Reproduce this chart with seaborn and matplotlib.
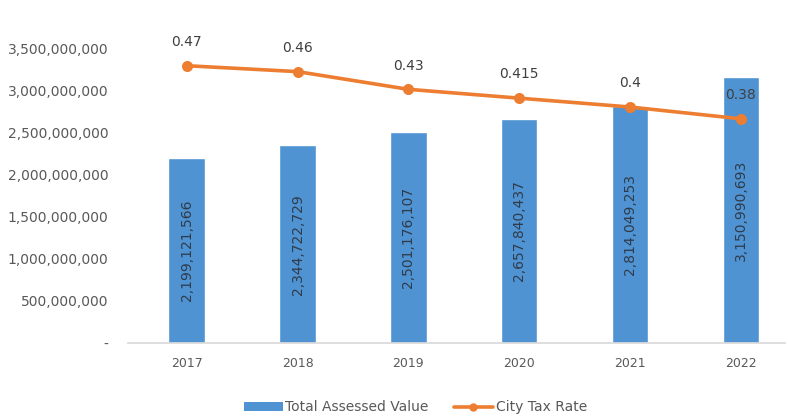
import matplotlib.pyplot as plt
import seaborn as sns
import pandas as pd
from matplotlib.patches import Patch
from matplotlib.lines import Line2D
from matplotlib.ticker import FuncFormatter

# Data
years = ["2017", "2018", "2019", "2020", "2021", "2022"]
assessed_value = [2199121566, 2344722729, 2501176107, 2657840437, 2814049253, 3150990693]
tax_rate = [0.47, 0.46, 0.43, 0.415, 0.4, 0.38]
tax_rate_labels = ["0.47", "0.46", "0.43", "0.415", "0.4", "0.38"]

df = pd.DataFrame({"year": years, "value": assessed_value, "rate": tax_rate})

BAR_COLOR = "#4F93D3"
LINE_COLOR = "#ED7D31"
TEXT_COLOR = "#595959"

sns.set_theme(style="white")
plt.rcParams['font.family'] = ['DejaVu Sans']

fig = plt.figure(figsize=(7.88, 4.19), dpi=100)
ax = fig.add_axes([0.1624, 0.1814, 0.834, 0.704])

sns.barplot(data=df, x="year", y="value", color=BAR_COLOR, width=0.33,
            saturation=1, ax=ax)

# value labels inside the bars, rotated
for i, v in enumerate(assessed_value):
    ax.text(i, v / 2, f"{v:,}", rotation=90, ha="center", va="center",
            fontsize=10, color="#2F3B4A")

ax.set_ylim(0, 3.5e9)
ax.set_yticks([i * 5e8 for i in range(8)])
ax.yaxis.set_major_formatter(FuncFormatter(lambda y, _: "-" if y == 0 else f"{int(y):,}"))
ax.tick_params(axis="y", labelsize=10, labelcolor=TEXT_COLOR, length=0, pad=14)
ax.tick_params(axis="x", labelsize=9, labelcolor=TEXT_COLOR, length=0, pad=10)
ax.set_xlabel("")
ax.set_ylabel("")
for side in ["top", "right", "left"]:
    ax.spines[side].set_visible(False)
ax.spines["bottom"].set_color("#D9D9D9")
ax.set_xlim(-0.53, 5.4)

# tax rate on a hidden secondary axis
ax2 = ax.twinx()
sns.pointplot(data=df, x="year", y="rate", color=LINE_COLOR, markers="o",
              linestyles="-", markersize=6, linewidth=2.6, ax=ax2)
ax2.set_ylim(0, 0.5)
ax2.set_xlim(-0.53, 5.4)
ax2.set_axis_off()
for i, (r, lab) in enumerate(zip(tax_rate, tax_rate_labels)):
    ax2.annotate(lab, (i, r), xytext=(0, 12), textcoords="offset points",
                 ha="center", va="bottom", fontsize=10, color="#404040")

handles = [Patch(facecolor=BAR_COLOR, edgecolor="none", label="Total Assessed Value"),
           Line2D([0], [0], color=LINE_COLOR, lw=2.6, marker="o", markersize=5,
                  label="City Tax Rate")]
fig.legend(handles=handles, loc="center", bbox_to_anchor=(0.527, 0.028), ncol=2,
           frameon=False, fontsize=10, handlelength=2.8, handleheight=0.55,
           handletextpad=0.2, columnspacing=1.8, labelcolor=TEXT_COLOR)

fig.savefig("out.png", dpi=100)
plt.close(fig)
